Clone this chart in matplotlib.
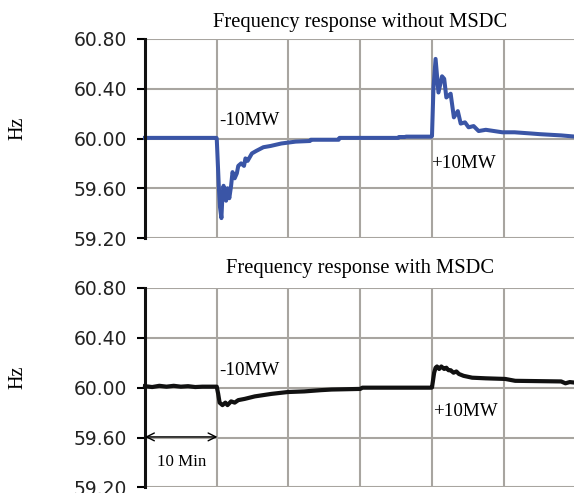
import numpy as np
import matplotlib.pyplot as plt

# time in minutes, frequency in Hz
t_without = [0, 5, 9.95, 10.0, 10.15, 10.3, 10.45, 10.65, 10.8, 10.95, 11.1, 11.3,
             11.5, 11.75, 12.0, 12.2, 12.5, 12.8, 13.0, 13.4, 13.8, 14.0, 14.3, 14.9,
             15.5, 16.5, 17.5, 19, 21, 23, 23.1, 27, 27.1, 35.3, 35.4, 36.2, 36.4,
             39.9, 40.0, 40.2, 40.5, 40.9, 41.4, 41.7, 42.0, 42.6, 43.05, 43.6, 44.0,
             44.6, 45.1, 45.8, 46.5, 47.5, 49.8, 51.5, 53.9, 55, 58, 60]
f_without = [60.005, 60.005, 60.005, 60.0, 59.80, 59.60, 59.45, 59.36, 59.55, 59.62, 59.55, 59.50,
             59.60, 59.52, 59.62, 59.73, 59.68, 59.72, 59.78, 59.80, 59.78, 59.84, 59.82, 59.88,
             59.90, 59.93, 59.94, 59.96, 59.975, 59.98, 59.99, 59.99, 60.005, 60.005, 60.012, 60.012, 60.015,
             60.015, 60.02, 60.40, 60.64, 60.37, 60.50, 60.48, 60.33, 60.36, 60.17, 60.22, 60.12,
             60.13, 60.09, 60.10, 60.06, 60.07, 60.05, 60.05, 60.04, 60.035, 60.025, 60.015]

t_with = [0, 1, 2, 3, 4, 5, 6, 7, 8, 10.0, 10.2, 10.4, 10.8, 11.2, 11.5, 12.0, 12.5, 13.0,
          13.9, 15.3, 17.6, 19.9, 22.2, 24.5, 26, 30, 30.3, 39.9, 40.0, 40.3, 40.5, 40.7,
          41.0, 41.3, 41.7, 42.0, 42.3, 42.6, 43.0, 43.4, 43.75, 44.4, 45.6, 47.5, 50.2,
          51.6, 58, 58.6, 59.2, 60]
f_with = [60.012, 60.005, 60.015, 60.008, 60.015, 60.008, 60.012, 60.005, 60.008, 60.008, 59.95, 59.88,
          59.86, 59.88, 59.86, 59.89, 59.88, 59.90, 59.91, 59.93, 59.95, 59.965, 59.97, 59.98,
          59.985, 59.99, 60.0, 60.0, 60.002, 60.12, 60.16, 60.17, 60.15, 60.17, 60.15, 60.16,
          60.14, 60.14, 60.12, 60.13, 60.11, 60.095, 60.08, 60.075, 60.07, 60.055, 60.05,
          60.035, 60.045, 60.04]

y_ticks = [59.2, 59.6, 60.0, 60.4, 60.8]
titles = ["Frequency response without MSDC", "Frequency response with MSDC"]

serif = "Liberation Serif"
fig = plt.figure(figsize=(5.74, 4.93), dpi=100)
ax1 = fig.add_axes([0.2526, 0.5172, 0.75, 0.4037])
ax2 = fig.add_axes([0.2526, 0.0114, 0.75, 0.4045])


def style(ax, title, pad):
    ax.set_xlim(0, 60)
    ax.set_ylim(59.2, 60.8)
    ax.set_yticks(y_ticks)
    ax.set_yticklabels([f"{v:.2f}" for v in y_ticks])
    ax.set_xticks(np.arange(0, 61, 10))
    ax.tick_params(axis="x", length=0, labelbottom=False)
    ax.tick_params(axis="y", direction="out", length=6, width=1.5, pad=7,
                   labelsize=13.5, labelcolor="#222222")
    ax.grid(True, color="#a8a5a0", linewidth=1.5)
    ax.set_axisbelow(True)
    for s in ["top", "right", "bottom"]:
        ax.spines[s].set_visible(False)
    ax.spines["left"].set_linewidth(2.2)
    ax.spines["left"].set_color("#111111")
    ax.set_title(title, family=serif, fontsize=14.8, pad=pad)
    ax.set_ylabel("Hz", family=serif, fontsize=14.5)
    ax.yaxis.set_label_coords(-0.272, 0.55)


style(ax1, titles[0], 8.5)
style(ax2, titles[1], 10.5)

ax1.plot(t_without, f_without, color="#3a55a6", linewidth=2.9, clip_on=False)
ax2.plot(t_with, f_with, color="#111111", linewidth=3.0, clip_on=False)

ax1.text(10.3, 60.145, "-10MW", family=serif, fontsize=13.7, va="center")
ax1.text(39.9, 59.80, "+10MW", family=serif, fontsize=13.7, va="center")
ax2.text(10.4, 60.14, "-10MW", family=serif, fontsize=13.7, va="center")
ax2.text(40.1, 59.81, "+10MW", family=serif, fontsize=13.7, va="center")

ax2.annotate("", xy=(0, 59.605), xytext=(10.1, 59.605),
             arrowprops=dict(arrowstyle="<->", color="black", lw=1.0,
                             shrinkA=0, shrinkB=0, mutation_scale=14))
ax2.text(5.1, 59.40, "10 Min", family=serif, fontsize=12.2, ha="center", va="center")

plt.savefig("out.png", dpi=100)
